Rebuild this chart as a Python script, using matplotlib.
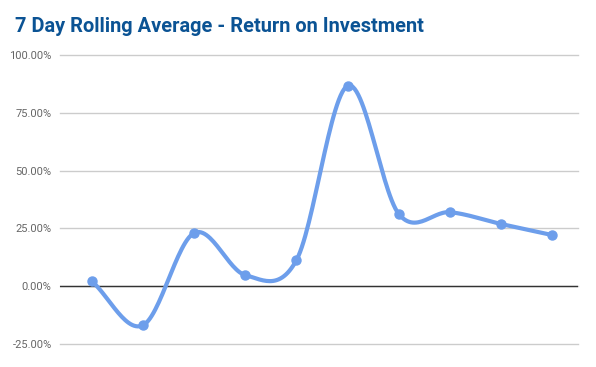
import numpy as np
import matplotlib.pyplot as plt
from matplotlib.ticker import FuncFormatter

days = list(range(10))
roi = [2.2, -16.9, 23.0, 4.8, 11.3, 86.7, 31.2, 32.0, 26.9, 22.1]
yticks = [-25, 0, 25, 50, 75, 100]

plt.rcParams['font.family'] = ['Roboto', 'DejaVu Sans']


def catmull_rom(x, y, n=30):
    # smooth line through the points, like the spreadsheet chart
    x = np.asarray(x, float)
    y = np.asarray(y, float)
    px = np.concatenate([[2 * x[0] - x[1]], x, [2 * x[-1] - x[-2]]])
    py = np.concatenate([[2 * y[0] - y[1]], y, [2 * y[-1] - y[-2]]])
    xs, ys = [], []
    for i in range(1, len(px) - 2):
        t = np.linspace(0, 1, n)
        for p, out in ((px, xs), (py, ys)):
            p0, p1, p2, p3 = p[i - 1], p[i], p[i + 1], p[i + 2]
            out.extend(0.5 * ((2 * p1) + (-p0 + p2) * t
                              + (2 * p0 - 5 * p1 + 4 * p2 - p3) * t ** 2
                              + (-p0 + 3 * p1 - 3 * p2 + p3) * t ** 3))
    return np.array(xs), np.array(ys)


fig = plt.figure(figsize=(5.96, 3.67), dpi=100)
ax = fig.add_axes([60 / 596, 23 / 367, 518 / 596, 289 / 367])

sx, sy = catmull_rom(days, roi)
ax.plot(sx, sy, color='#6d9eeb', lw=3, solid_capstyle='round', zorder=3)
ax.plot(days, roi, 'o', color='#6d9eeb', ms=6.5, zorder=4)

ax.set_xlim(-0.62, 9.5)
ax.set_ylim(-25, 100)
ax.set_yticks(yticks)
ax.yaxis.set_major_formatter(FuncFormatter(lambda v, p: f'{v:.2f}%'))
ax.set_xticks([])
ax.grid(axis='y', color='#cccccc', lw=1)
for gl in ax.get_ygridlines():
    gl.set_clip_on(False)
ax.axhline(0, color='#333333', lw=1, zorder=2)
ax.tick_params(axis='y', length=0, labelsize=8, labelcolor='#666666', pad=6)
for s in ax.spines.values():
    s.set_visible(False)

fig.text(15 / 596, 1 - 26 / 367, '7 Day Rolling Average - Return on Investment',
         fontsize=14.4, fontweight='bold', color='#0b5394', va='center', ha='left')

fig.savefig('out.png', dpi=100)
